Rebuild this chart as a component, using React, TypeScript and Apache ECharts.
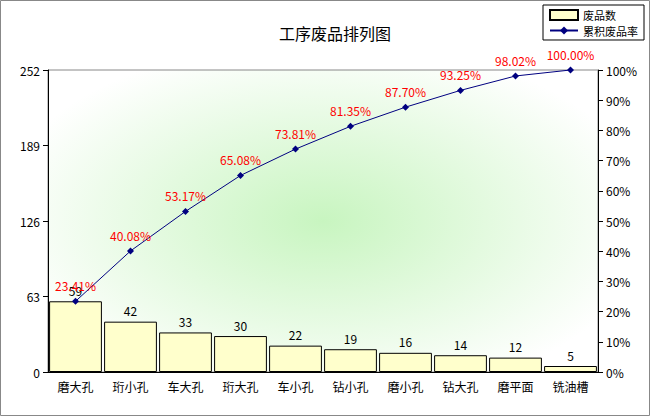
import React, { useEffect, useRef } from "react";
import * as echarts from "echarts";

const categories = ["磨大孔", "珩小孔", "车大孔", "珩大孔", "车小孔", "钻小孔", "磨小孔", "钻大孔", "磨平面", "铣油槽"];
const defects = [59, 42, 33, 30, 22, 19, 16, 14, 12, 5];
const cumulative = [23.41, 40.08, 53.17, 65.08, 73.81, 81.35, 87.7, 93.25, 98.02, 100.0];

export default function App() {
  const ref = useRef<HTMLDivElement>(null);
  useEffect(() => {
    const chart = echarts.init(ref.current!, null, { renderer: "svg" });
    const font = "SimSun, 'Noto Sans CJK SC', sans-serif";
    chart.setOption({
      animation: false,
      backgroundColor: "#fff",
      textStyle: { fontFamily: font },
      title: { text: "工序废品排列图", left: 330, top: 20, textAlign: "center", textStyle: { fontSize: 16, fontWeight: "normal", color: "#000", fontFamily: font } },
      legend: {
        orient: "vertical", right: 6, top: 5, itemGap: 4, itemWidth: 28, itemHeight: 10,
        borderColor: "#000", borderWidth: 1, padding: [4, 6], backgroundColor: "#fff",
        textStyle: { fontSize: 11, color: "#000" },
        data: [{ name: "废品数", icon: "rect" }, { name: "累积废品率" }],
      },
      graphic: [{ type: "rect", shape: { x: 0.5, y: 0.5, width: 649, height: 415 }, style: { fill: "none", stroke: "#888", lineWidth: 1 }, silent: true }],
      grid: {
        left: 48, right: 52, top: 70, bottom: 44, show: true, borderColor: "#888", borderWidth: 1,
        backgroundColor: new echarts.graphic.RadialGradient(0.5, 0.5, 0.6, [
          { offset: 0, color: "#c8f5c0" }, { offset: 1, color: "#ffffff" },
        ]),
      },
      xAxis: {
        type: "category", data: categories,
        axisLine: { lineStyle: { color: "#000" } }, axisTick: { show: false },
        axisLabel: { color: "#000", fontSize: 12, margin: 8 },
      },
      yAxis: [
        { type: "value", min: 0, max: 252, interval: 63, splitLine: { show: false },
          axisLine: { show: true, lineStyle: { color: "#000" } }, axisTick: { show: true, inside: false },
          axisLabel: { color: "#000", fontSize: 12 } },
        { type: "value", min: 0, max: 100, interval: 10, splitLine: { show: false },
          axisLine: { show: true, lineStyle: { color: "#000" } }, axisTick: { show: true },
          axisLabel: { color: "#000", fontSize: 12, formatter: "{value}%" } },
      ],
      series: [
        { name: "废品数", type: "bar", data: defects, barCategoryGap: "4%",
          itemStyle: { color: "#ffffcc", borderColor: "#000", borderWidth: 1 },
          label: { show: true, position: "top", color: "#000", fontSize: 12 } },
        { name: "累积废品率", type: "line", yAxisIndex: 1, data: cumulative,
          symbol: "diamond", symbolSize: 7, lineStyle: { color: "#000080", width: 1 }, itemStyle: { color: "#000080" },
          label: { show: true, position: "top", color: "#ff0000", fontSize: 12, distance: 6,
            formatter: (p: any) => p.value.toFixed(2) + "%" } },
      ],
    });
    return () => chart.dispose();
  }, []);
  return <div ref={ref} style={{ position: "fixed", left: 0, top: 0, width: 650, height: 416 }} />;
}
